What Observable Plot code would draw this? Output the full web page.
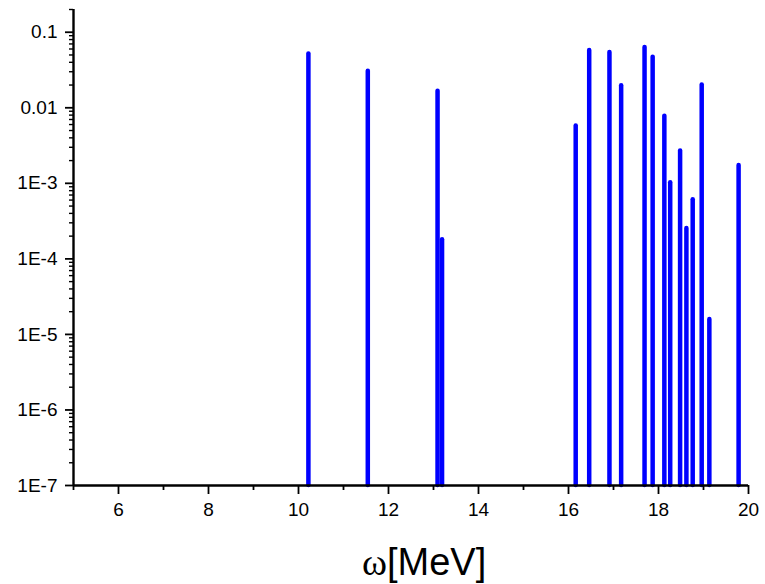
<!DOCTYPE html>
<html><head><meta charset="utf-8">
<script src="https://cdn.jsdelivr.net/npm/d3@7"></script>
<script src="https://cdn.jsdelivr.net/npm/@observablehq/plot@0.6"></script>
<style>
body{margin:0;background:#fff}
svg{font-family:"Liberation Sans",Arial,sans-serif;background:#fff}
</style>
</head><body><div id="chart"></div>
<script>
// Peak energies (MeV) and strengths
const energies  = [10.22, 11.54, 13.09, 13.19, 16.16, 16.46, 16.91, 17.17, 17.69, 17.87, 18.13, 18.26, 18.48, 18.62, 18.76, 18.96, 19.13, 19.78];
const strengths = [0.0515, 0.0305, 0.0165, 1.79e-4, 0.00572, 0.0572, 0.0538, 0.0196, 0.0627, 0.0466, 0.0077, 0.00102, 0.00267, 2.53e-4, 6.07e-4, 0.0200, 1.57e-5, 0.00172];

const yMajorTicks = [1e-7, 1e-6, 1e-5, 1e-4, 1e-3, 0.01, 0.1];
const yTickLabels = ["1E-7", "1E-6", "1E-5", "1E-4", "1E-3", "0.01", "0.1"];
const yMinorMultipliers = [2, 3, 4, 5, 6, 7, 8, 9];
const xMajorTicks = [6, 8, 10, 12, 14, 16, 18, 20];
const xMinorTicks = [5, 7, 9, 11, 13, 15, 17, 19];
const xLabelSymbol = "ω";
const xLabelUnit = "[MeV]";

const peaks = energies.map((e, i) => ({e, s: strengths[i]}));
const yMinorTicks = yMajorTicks.flatMap(d => yMinorMultipliers.map(m => d * m)).filter(v => v <= 0.2);
const labelOf = new Map(yMajorTicks.map((t, i) => [t, yTickLabels[i]]));

const chart = Plot.plot({
  width: 765,
  height: 584,
  marginLeft: 73,
  marginRight: 17,
  marginTop: 9,
  marginBottom: 99,
  x: {domain: [5, 20]},
  y: {type: "log", domain: [1e-7, 0.2]},
  marks: [
    Plot.ruleX(peaks, {x: "e", y1: () => 1e-7, y2: "s", stroke: "#0000ff", strokeWidth: 4.5, strokeLinecap: "round"}),
    Plot.axisY({ticks: yMinorTicks, tickSize: 4, text: null, strokeWidth: 1.4, label: null}),
    Plot.axisY({ticks: yMajorTicks, tickSize: 8, tickPadding: 8, fontSize: 19, strokeWidth: 1.8,
      tickFormat: d => labelOf.get(d), label: null, fill: "#000"}),
    Plot.axisX({ticks: xMinorTicks, tickSize: 5, text: null, strokeWidth: 1.8, label: null}),
    Plot.axisX({ticks: xMajorTicks, tickSize: 9, tickPadding: 8, fontSize: 19, strokeWidth: 1.8,
      tickFormat: d => String(d), label: null, fill: "#000"}),
    Plot.ruleX([5], {stroke: "#000", strokeWidth: 2.4}),
    Plot.ruleY([1e-7], {stroke: "#000", strokeWidth: 2.4}),
    Plot.text([xLabelSymbol], {text: d => d, frameAnchor: "bottom", textAnchor: "end", dx: -24, dy: 89,
      fontSize: 38, fontFamily: "Liberation Serif", fill: "#000"}),
    Plot.text([xLabelUnit], {text: d => d, frameAnchor: "bottom", textAnchor: "start", dx: -24, dy: 89,
      fontSize: 38, fontFamily: "Liberation Sans", fill: "#000"})
  ]
});
document.getElementById("chart").appendChild(chart);
</script>
</body></html>
